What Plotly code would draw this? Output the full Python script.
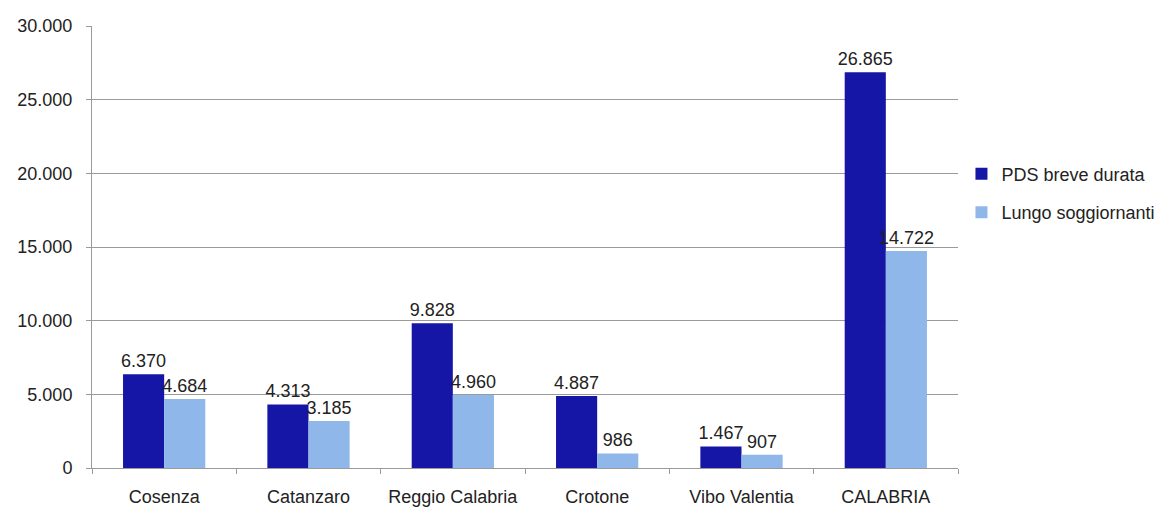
import plotly.graph_objects as go

categories = ["Cosenza", "Catanzaro", "Reggio Calabria", "Crotone", "Vibo Valentia", "CALABRIA"]
pds_breve = [6370, 4313, 9828, 4887, 1467, 26865]
lungo = [4684, 3185, 4960, 986, 907, 14722]
y_ticks = [0, 5000, 10000, 15000, 20000, 25000, 30000]

font = dict(family="Liberation Sans, Arial, sans-serif", size=18, color="#222222")

fig = go.Figure()
fig.add_trace(go.Bar(
    name="PDS breve durata", x=categories, y=pds_breve, legendgroup="a",
    marker=dict(color="#1616a6", line=dict(width=0)),
    texttemplate="%{y:,}", textposition="outside", cliponaxis=False,
    constraintext="none", textfont=font,
))
fig.add_trace(go.Bar(
    name="Lungo soggiornanti", x=categories, y=lungo, legendgroup="b",
    marker=dict(color="#8fb7ea", line=dict(width=0)),
    texttemplate="%{y:,}", textposition="outside", cliponaxis=False,
    constraintext="none", textfont=font,
))

fig.update_layout(
    width=1170, height=512,
    margin=dict(l=84, r=220, t=18, b=52),
    paper_bgcolor="white", plot_bgcolor="white",
    separators=",.",
    barmode="group", bargap=0.43, bargroupgap=0,
    font=font,
    showlegend=True,
    legend=dict(x=1.004, y=0.622, xanchor="left", yanchor="middle",
                font=font, itemwidth=30, traceorder="grouped",
                tracegroupgap=12, bgcolor="rgba(0,0,0,0)"),
)
fig.update_yaxes(
    range=[0, 30000], tickvals=y_ticks, tickformat=",",
    showgrid=True, gridcolor="#9a9a9a", gridwidth=1,
    showline=True, linecolor="#9a9a9a", linewidth=1,
    ticks="outside", ticklen=5, tickcolor="#9a9a9a",
    zeroline=False, tickfont=font, ticklabelstandoff=10, automargin=False,
)
fig.update_xaxes(
    showline=True, linecolor="#9a9a9a", linewidth=1,
    ticks="outside", ticklen=5, tickcolor="#9a9a9a", tickson="boundaries",
    tickfont=font, ticklabelstandoff=12, tickangle=0, automargin=False,
)

fig.write_html("out.html")
